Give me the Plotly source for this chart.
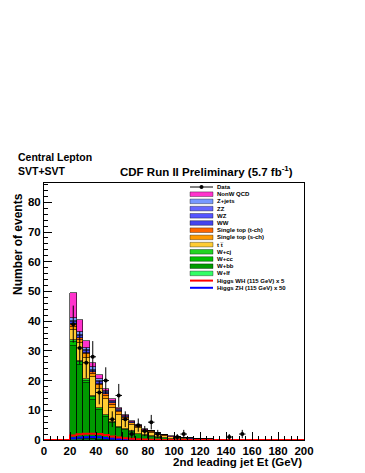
import numpy as np
import plotly.graph_objects as go

# stacked background, one value per 5 GeV bin starting at 20 GeV
bin_lo = list(range(20, 130, 5))
w_lf = [0.4, 0.3, 0.3, 0.25, 0.1, 0.08, 0.06, 0.06, 0.04, 0.04, 0.03, 0.02, 0.01, 0.01, 0, 0, 0, 0, 0, 0, 0, 0]
w_bb = [31.1, 24.9, 18.8, 13.35, 10.1, 7.82, 5.54, 4.14, 3.36, 2.66, 1.97, 1.38, 1.09, 0.79, 0.6, 0.4, 0.3, 0.2, 0.15, 0.1, 0.08, 0.05]
w_cc = [1.4, 0.9, 0.9, 0.9, 0.45, 0.35, 0.3, 0.22, 0.17, 0.14, 0.11, 0.08, 0.06, 0.06, 0.03, 0.03, 0.02, 0.01, 0.01, 0.01, 0.01, 0]
w_cj = [0.7, 0.5, 0.5, 0.45, 0.25, 0.17, 0.14, 0.12, 0.09, 0.07, 0.06, 0.05, 0.03, 0.03, 0.02, 0.02, 0.01, 0.01, 0.01, 0, 0, 0]
ttbar = [3.4, 5.9, 7.2, 6.3, 6.3, 5.5, 4.9, 4.0, 3.1, 2.15, 1.8, 1.3, 1.3, 0.9, 0.7, 0.5, 0.4, 0.35, 0.25, 0.2, 0.15, 0.1]
stop_s = [1.0, 1.3, 1.1, 1.0, 1.2, 1.0, 1.0, 0.8, 0.6, 0.5, 0.4, 0.3, 0.25, 0.2, 0.15, 0.1, 0.08, 0.06, 0.04, 0.04, 0.03, 0.02]
stop_t = [1.0, 0.7, 0.6, 0.5, 0.6, 0.5, 0.6, 0.4, 0.3, 0.3, 0.2, 0.15, 0.15, 0.1, 0.1, 0.05, 0.04, 0.04, 0.03, 0.02, 0.02, 0.01]
ww = [0.7, 0.55, 0.45, 0.55, 0.5, 0.4, 0.25, 0.25, 0.18, 0.12, 0.1, 0.07, 0.07, 0.05, 0.04, 0.03, 0.02, 0.02, 0.01, 0.02, 0, 0]
wz = [0.3, 0.25, 0.2, 0.25, 0.2, 0.15, 0.1, 0.1, 0.07, 0.05, 0.05, 0.03, 0.03, 0.02, 0.02, 0.01, 0.01, 0.01, 0.01, 0.01, 0, 0]
zz = [0.2, 0.15, 0.15, 0.15, 0.15, 0.1, 0.07, 0.07, 0.05, 0.03, 0.03, 0.02, 0.02, 0.02, 0.01, 0.01, 0.01, 0.01, 0.01, 0.01, 0, 0]
z_jets = [0.9, 0.75, 0.6, 0.75, 0.65, 0.45, 0.28, 0.28, 0.2, 0.15, 0.12, 0.08, 0.08, 0.06, 0.03, 0.02, 0.01, 0.01, 0, 0, 0, 0]
nonw_qcd = [8.5, 4.2, 2.6, 1.4, 1.3, 0.6, 0.4, 0.4, 0.2, 0.15, 0.1, 0.1, 0.1, 0.05, 0, 0.03, 0, 0, 0, 0, 0, 0]

# data, bins 20..155
data_lo = list(range(20, 160, 5))
data = [39, 31, 26, 28, 16, 20, 7, 15, 7, 2, 5, 3, 6, 2, 0, 0, 1, 2, 0, 0, 0, 0, 0, 0, 1, 0, 2, 0]

# Higgs signal shapes, bins 20..85 (zero elsewhere in 0..200)
higgs_lo = list(range(20, 90, 5))
higgs_wh = [1.5, 1.9, 2.1, 2.1, 2.0, 1.7, 1.2, 0.8, 0.6, 0.4, 0.25, 0.15, 0.1, 0.05]
higgs_zh = [0.6, 0.8, 0.9, 1.0, 0.9, 0.7, 0.5, 0.3, 0.2, 0.1, 0.05, 0.02, 0, 0]

x_ticks = list(range(0, 201, 20))
y_ticks = list(range(0, 81, 10))

FONT = "Liberation Sans, Arial, sans-serif"

# bottom -> top of the stack
stack = [
    ("W+lf", w_lf, "#33ff66"),
    ("W+bb", w_bb, "#009a00"),
    ("W+cc", w_cc, "#00c000"),
    ("W+cj", w_cj, "#22d422"),
    ("t t\u0305", ttbar, "#ffcc33"),
    ("Single top (s-ch)", stop_s, "#ff9900"),
    ("Single top (t-ch)", stop_t, "#ff6600"),
    ("WW", ww, "#4444ee"),
    ("WZ", wz, "#5555ff"),
    ("ZZ", zz, "#6666ff"),
    ("Z+jets", z_jets, "#7799ff"),
    ("NonW QCD", nonw_qcd, "#ff33cc"),
]

fig = go.Figure()

centers = [b + 2.5 for b in bin_lo]
for name, vals, col in stack:
    fig.add_trace(go.Bar(
        x=centers, y=[v if v > 0 else None for v in vals], width=5, name=name,
        marker=dict(color=col, line=dict(color="rgba(0,0,0,0.75)", width=0.8)),
        showlegend=False,
    ))

# higgs step lines over full 0..200 range
edges = list(range(0, 205, 5))
def full_hist(lo, vals):
    h = {b: v for b, v in zip(lo, vals)}
    ys = [h.get(e, 0) for e in edges[:-1]]
    return ys + [ys[-1]]

fig.add_trace(go.Scatter(x=edges, y=full_hist(higgs_lo, higgs_zh), mode="lines",
                         line=dict(color="#0000ff", width=2, shape="hv"), showlegend=False))
fig.add_trace(go.Scatter(x=edges, y=full_hist(higgs_lo, higgs_wh), mode="lines",
                         line=dict(color="#ff0000", width=2, shape="hv"), showlegend=False))

dx = [b + 2.5 for b, n in zip(data_lo, data) if n > 0]
dy = [n for n in data if n > 0]
fig.add_trace(go.Scatter(
    x=dx, y=dy, mode="markers",
    marker=dict(color="black", size=4, symbol="circle"),
    error_y=dict(type="data", array=list(np.sqrt(dy)), color="black", thickness=1, width=0),
    error_x=dict(type="data", array=[2.5] * len(dx), color="black", thickness=1, width=0),
    showlegend=False,
))

# the page body has an 8px margin, so the figure is offset by 8px
OFF = 8
FW, FH = 365 - OFF, 473 - OFF
# plot area in reference pixels
L, T, W, H = 44, 183, 260, 257
def px(x):
    return (x - L) / W
def py(y):
    return (T + H - y) / H

shapes = []
annotations = []

# hand-drawn legend (ROOT style, tiny entries)
colors = {n: c for n, _, c in stack}
legend_order = ["NonW QCD", "Z+jets", "ZZ", "WZ", "WW", "Single top (t-ch)", "Single top (s-ch)",
                "t t\u0305", "W+cj", "W+cc", "W+bb", "W+lf"]
legend = [("Data", "data", "black")] + [(n, "box", colors[n]) for n in legend_order] + [
    ("Higgs WH (115 GeV) x 5", "line", "#ff0000"),
    ("Higgs ZH (115 GeV) x 50", "line", "#0000ff"),
]
y0, step = 187, 7.2
for i, (name, kind, col) in enumerate(legend):
    yy = y0 + i * step
    if kind == "box":
        shapes.append(dict(type="rect", xref="paper", yref="paper",
                           x0=px(190), x1=px(213), y0=py(yy + 2.3), y1=py(yy - 2.3),
                           fillcolor=col, line=dict(color="rgba(0,0,0,0.6)", width=0.6)))
    else:
        shapes.append(dict(type="line", xref="paper", yref="paper",
                           x0=px(190), x1=px(213), y0=py(yy), y1=py(yy),
                           line=dict(color=col, width=1 if kind == "data" else 2)))
        if kind == "data":
            shapes.append(dict(type="circle", xref="paper", yref="paper",
                               x0=px(199.5), x1=px(203.5), y0=py(yy + 2), y1=py(yy - 2),
                               fillcolor="black", line=dict(color="black", width=0)))
    annotations.append(dict(xref="paper", yref="paper", x=px(215), y=py(yy), text=name,
                            showarrow=False, xanchor="left", yanchor="middle",
                            font=dict(family=FONT, size=6, color="black", weight="bold")))

annotations += [
    dict(xref="paper", yref="paper", x=px(16), y=py(157), text="Central Lepton", showarrow=False,
         xanchor="left", yanchor="middle", font=dict(family=FONT, size=10.5, color="black", weight="bold")),
    dict(xref="paper", yref="paper", x=px(16), y=py(171), text="SVT+SVT", showarrow=False,
         xanchor="left", yanchor="middle", font=dict(family=FONT, size=10.5, color="black", weight="bold")),
    dict(xref="paper", yref="paper", x=px(118), y=py(171), text="CDF Run II Preliminary (5.7 fb<sup>-1</sup>)",
         showarrow=False, xanchor="left", yanchor="middle",
         font=dict(family=FONT, size=11.5, color="black", weight="bold")),
    dict(xref="paper", yref="paper", x=px(18), y=py(244), text="Number of events", textangle=-90,
         showarrow=False, xanchor="center", yanchor="middle",
         font=dict(family=FONT, size=12, color="black", weight="bold")),
    dict(xref="paper", yref="paper", x=px(304), y=py(462), text="2nd leading jet Et (GeV)",
         showarrow=False, xanchor="right", yanchor="middle",
         font=dict(family=FONT, size=11.5, color="black", weight="bold")),
]

axis_common = dict(
    showline=True, linecolor="black", linewidth=1, mirror=True,
    showgrid=False, zeroline=False, ticks="inside", tickcolor="black",
    tickfont=dict(family=FONT, size=11.5, color="black", weight="bold"),
)

fig.update_layout(
    width=FW, height=FH,
    margin=dict(l=L - OFF, r=FW - (L - OFF) - W, t=T - OFF, b=FH - (T - OFF) - H),
    plot_bgcolor="white", paper_bgcolor="white",
    barmode="stack", bargap=0,
    shapes=shapes, annotations=annotations,
    xaxis=dict(range=[0, 200], tickvals=x_ticks, ticklen=8,
               minor=dict(dtick=5, ticklen=4, ticks="inside", tickcolor="black"), **axis_common),
    yaxis=dict(range=[0, 86.5], tickvals=y_ticks, ticklen=8,
               minor=dict(dtick=2, ticklen=4, ticks="inside", tickcolor="black"), **axis_common),
)

fig.write_html("out.html")
